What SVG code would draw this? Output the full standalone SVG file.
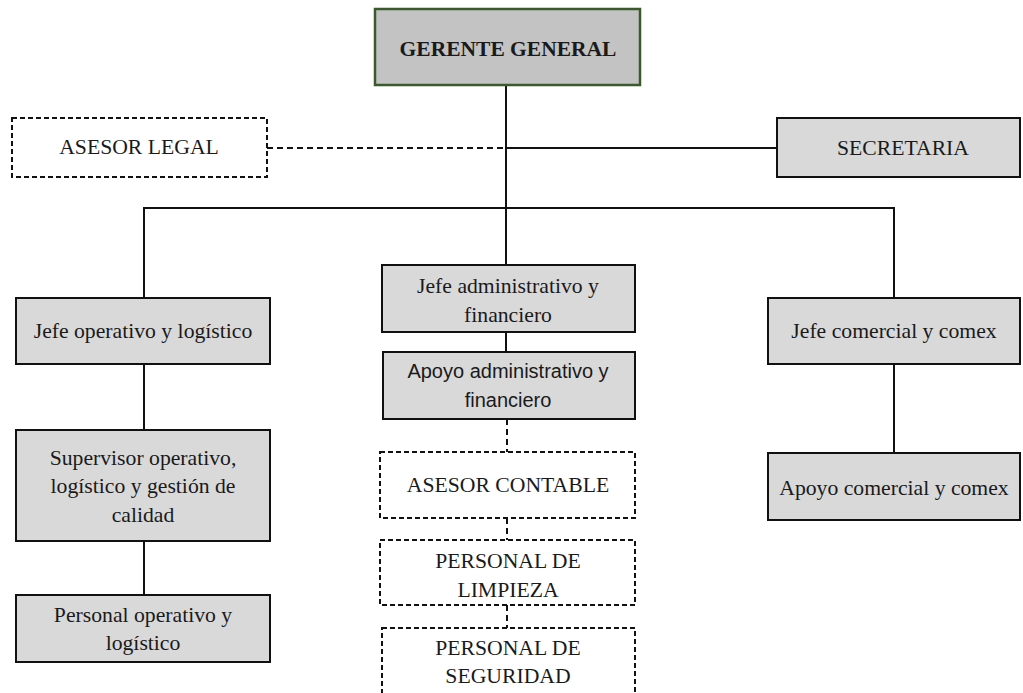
<svg xmlns="http://www.w3.org/2000/svg" width="1023" height="693" viewBox="0 0 1023 693">
<style>
.box{fill:#d9d9d9;stroke:#111;stroke-width:2}
.dbox{fill:#fff;stroke:#111;stroke-width:2;stroke-dasharray:5,3}
.top{fill:#c3c3c3;stroke:#3b5a2c;stroke-width:2.5}
.t{font-family:"Liberation Serif","Times New Roman",serif;font-size:21.7px;fill:#1a1a1a;text-anchor:middle}
.tb{font-family:"Liberation Serif","Times New Roman",serif;font-size:21.5px;font-weight:bold;fill:#1a1a1a;text-anchor:middle}
.ts{font-family:"Liberation Sans",Arial,sans-serif;font-size:20px;fill:#1a1a1a;text-anchor:middle}
.ln{fill:none;stroke:#111;stroke-width:2}
.dl{fill:none;stroke:#111;stroke-width:2;stroke-dasharray:6,4}
</style>
<rect width="1023" height="693" fill="#fff"/>
<g id="connectors">
<line class="ln" x1="506" y1="85" x2="506" y2="265"/>
<line class="dl" x1="267" y1="148" x2="506" y2="148"/>
<line class="ln" x1="506" y1="148" x2="777" y2="148"/>
<polyline class="ln" points="144,298 144,208 894,208 894,298"/>
<line class="ln" x1="144" y1="364" x2="144" y2="430"/>
<line class="ln" x1="144" y1="541" x2="144" y2="595"/>
<line class="ln" x1="506" y1="332" x2="506" y2="352"/>
<line class="dl" x1="507" y1="419" x2="507" y2="452"/>
<line class="dl" x1="507" y1="518" x2="507" y2="540"/>
<line class="dl" x1="507" y1="605" x2="507" y2="628"/>
<line class="ln" x1="894" y1="364" x2="894" y2="453"/>
</g>
<g id="gerente">
<rect class="top" x="375" y="9" width="265" height="76"/>
<text class="tb" x="508" y="56">GERENTE GENERAL</text>
</g>
<g id="asesor-legal">
<rect class="dbox" x="12" y="118" width="255" height="59"/>
<text class="t" x="139" y="154">ASESOR LEGAL</text>
</g>
<g id="secretaria">
<rect class="box" x="777" y="118" width="243" height="59"/>
<text class="t" x="903" y="155">SECRETARIA</text>
</g>
<g id="jefe-operativo">
<rect class="box" x="16" y="298" width="254" height="66"/>
<text class="t" x="143" y="338">Jefe operativo y logístico</text>
</g>
<g id="supervisor">
<rect class="box" x="16" y="430" width="254" height="111"/>
<text class="t" x="143" y="465">Supervisor operativo,</text>
<text class="t" x="143" y="493">logístico y gestión de</text>
<text class="t" x="143" y="522">calidad</text>
</g>
<g id="personal-operativo">
<rect class="box" x="16" y="595" width="254" height="67"/>
<text class="t" x="143" y="622">Personal operativo y</text>
<text class="t" x="143" y="650">logístico</text>
</g>
<g id="jefe-administrativo">
<rect class="box" x="382" y="265" width="253" height="67"/>
<text class="t" x="508" y="293">Jefe administrativo y</text>
<text class="t" x="508" y="322">financiero</text>
</g>
<g id="apoyo-administrativo">
<rect class="box" x="383" y="352" width="252" height="67"/>
<text class="ts" x="508" y="378">Apoyo administrativo y</text>
<text class="ts" x="508" y="407">financiero</text>
</g>
<g id="asesor-contable">
<rect class="dbox" x="380" y="452" width="255" height="66"/>
<text class="t" x="508" y="492">ASESOR CONTABLE</text>
</g>
<g id="personal-limpieza">
<rect class="dbox" x="380" y="540" width="255" height="65"/>
<text class="t" x="508" y="568">PERSONAL DE</text>
<text class="t" x="508" y="597">LIMPIEZA</text>
</g>
<g id="personal-seguridad">
<rect class="dbox" x="382" y="628" width="253" height="80"/>
<text class="t" x="508" y="655">PERSONAL DE</text>
<text class="t" x="508" y="683">SEGURIDAD</text>
</g>
<g id="jefe-comercial">
<rect class="box" x="768" y="298" width="252" height="66"/>
<text class="t" x="894" y="338">Jefe comercial y comex</text>
</g>
<g id="apoyo-comercial">
<rect class="box" x="768" y="453" width="252" height="67"/>
<text class="t" x="894" y="495">Apoyo comercial y comex</text>
</g>
</svg>
